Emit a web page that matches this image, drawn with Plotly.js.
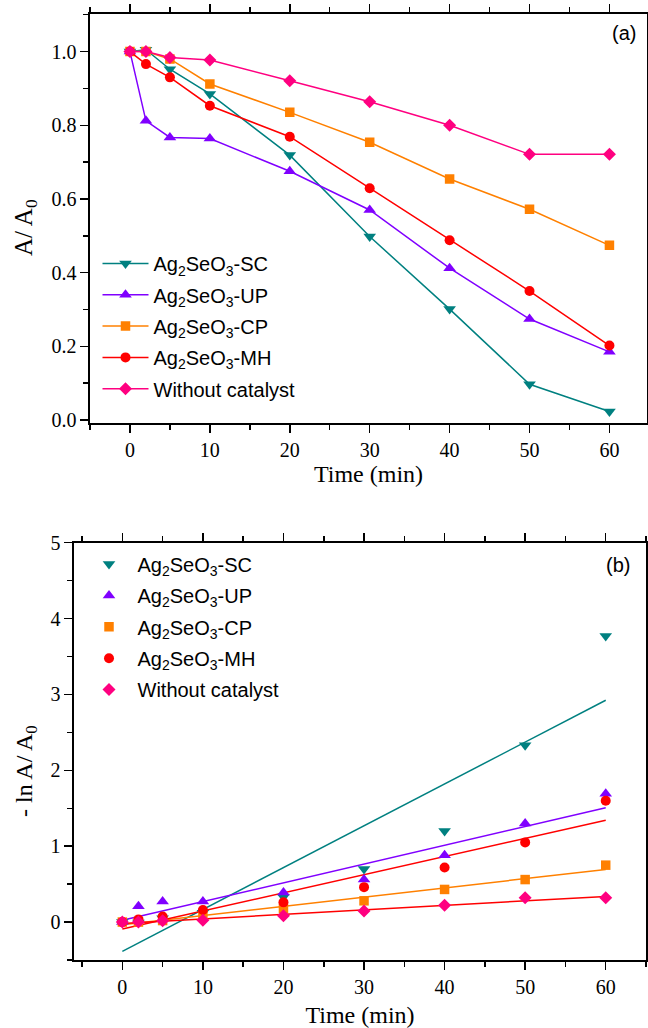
<!DOCTYPE html>
<html>
<head>
<meta charset="utf-8">
<script src="https://cdn.plot.ly/plotly-3.0.1.min.js"></script>
<style>html,body{margin:0;padding:0;background:#fff;}#chart{width:648px;height:1028px;}</style>
</head>
<body>
<div id="chart"></div>
<script>
// ---- data ----
var time = [0, 2, 5, 10, 20, 30, 40, 50, 60];
var seriesNames = ['Ag<sub>2</sub>SeO<sub>3</sub>-SC', 'Ag<sub>2</sub>SeO<sub>3</sub>-UP', 'Ag<sub>2</sub>SeO<sub>3</sub>-CP', 'Ag<sub>2</sub>SeO<sub>3</sub>-MH', 'Without catalyst'];
// panel (a): A/A0
var ratioSC = [1.0, 1.005, 0.952, 0.885, 0.719, 0.498, 0.301, 0.097, 0.023];
var ratioUP = [1.0, 0.812, 0.767, 0.764, 0.675, 0.570, 0.412, 0.274, 0.185];
var ratioCP = [1.0, 1.0, 0.980, 0.912, 0.835, 0.754, 0.654, 0.572, 0.474];
var ratioMH = [1.0, 0.966, 0.930, 0.853, 0.769, 0.629, 0.488, 0.350, 0.202];
var ratioWO = [1.0, 1.0, 0.984, 0.977, 0.921, 0.864, 0.800, 0.721, 0.721];
// panel (b): -ln(A/A0)
var lnSC = [0, -0.005, 0.05, 0.122, 0.33, 0.70, 1.20, 2.33, 3.77];
var lnUP = [0, 0.21, 0.27, 0.27, 0.39, 0.56, 0.88, 1.30, 1.69];
var lnCP = [0, 0.0, 0.02, 0.092, 0.18, 0.28, 0.43, 0.56, 0.75];
var lnMH = [0, 0.035, 0.073, 0.16, 0.26, 0.46, 0.72, 1.05, 1.60];
var lnWO = [0, 0, 0.016, 0.023, 0.082, 0.146, 0.22, 0.32, 0.32];

var colors = ['#008080', '#8000ff', '#ff8000', '#ff0000', '#ff0080'];
var fitColors = ['#008080', '#8000ff', '#ff8000', '#ff0000', '#ff0000'];
var symbols = ['triangle-down', 'triangle-up', 'square', 'circle', 'diamond'];
var sizes = [11, 11, 9.5, 10, 10];

var ratios = [ratioSC, ratioUP, ratioCP, ratioMH, ratioWO];
var lns = [lnSC, lnUP, lnCP, lnMH, lnWO];

function linfit(x, y) {
  var n = x.length, sx = 0, sy = 0, sxx = 0, sxy = 0;
  for (var i = 0; i < n; i++) { sx += x[i]; sy += y[i]; sxx += x[i] * x[i]; sxy += x[i] * y[i]; }
  var b = (n * sxy - sx * sy) / (n * sxx - sx * sx);
  var a = (sy - b * sx) / n;
  return [a, b];
}

var serif = 'Liberation Serif, Times New Roman, serif';
var sans = 'Liberation Sans, Arial, sans-serif';

var traces = [];
for (var i = 0; i < 5; i++) {
  traces.push({
    x: time, y: ratios[i], xaxis: 'x', yaxis: 'y', type: 'scatter', mode: 'lines+markers',
    name: seriesNames[i], legend: 'legend', legendgroup: 'a' + i,
    line: {color: colors[i], width: 1.5},
    marker: {symbol: symbols[i], size: sizes[i], color: colors[i]}
  });
}
var tmin = Math.min.apply(null, time), tmax = Math.max.apply(null, time);
for (var j = 0; j < 5; j++) {
  var f = linfit(time, lns[j]);
  traces.push({
    x: [tmin, tmax], y: [f[0] + f[1] * tmin, f[0] + f[1] * tmax], xaxis: 'x2', yaxis: 'y2',
    type: 'scatter', mode: 'lines', showlegend: false, hoverinfo: 'skip',
    line: {color: fitColors[j], width: 1.5}
  });
}
for (var k = 0; k < 5; k++) {
  traces.push({
    x: time, y: lns[k], xaxis: 'x2', yaxis: 'y2', type: 'scatter', mode: 'markers',
    name: seriesNames[k], legend: 'legend2', legendgroup: 'b' + k,
    marker: {symbol: symbols[k], size: sizes[k], color: colors[k]}
  });
}

var W = 648, H = 1028;
function axisBase() {
  return {
    showline: true, linecolor: '#000', linewidth: 1.6, mirror: 'ticks',
    ticks: 'outside', ticklen: 8, tickwidth: 1.5, tickcolor: '#000',
    showgrid: false, zeroline: false, automargin: false,
    tickfont: {family: serif, size: 20, color: '#000'}
  };
}
var xa = axisBase();
Object.assign(xa, {domain: [90 / W, 647 / W], range: [-5, 64.7], anchor: 'y', tick0: 0, dtick: 10,
  minor: {dtick: 5, ticks: 'outside', ticklen: 5, tickwidth: 1.5, tickcolor: '#000'},
  title: {text: 'Time (min)', font: {family: serif, size: 24, color: '#000'}, standoff: 5}});
var ya = axisBase();
Object.assign(ya, {domain: [1 - 423.3 / H, 1 - 14 / H], range: [-0.009, 1.102], anchor: 'x', tick0: 0, dtick: 0.2, tickformat: '.1f',
  minor: {dtick: 0.1, ticks: 'outside', ticklen: 5, tickwidth: 1.5, tickcolor: '#000'}});
var xb = axisBase();
Object.assign(xb, {domain: [74 / W, 646 / W], range: [-6, 65], anchor: 'y2', tick0: 0, dtick: 10,
  minor: {dtick: 5, ticks: 'outside', ticklen: 5, tickwidth: 1.5, tickcolor: '#000'},
  title: {text: 'Time (min)', font: {family: serif, size: 24, color: '#000'}, standoff: 9}});
var yb = axisBase();
Object.assign(yb, {domain: [1 - 960 / H, 1 - 542.7 / H], range: [-0.5, 5], anchor: 'x2', tick0: 0, dtick: 1,
  minor: {dtick: 0.5, ticks: 'outside', ticklen: 5, tickwidth: 1.5, tickcolor: '#000'}});

var layout = {
  width: W, height: H, margin: {l: 0, r: 0, t: 0, b: 0},
  paper_bgcolor: '#fff', plot_bgcolor: '#fff',
  xaxis: xa, yaxis: ya, xaxis2: xb, yaxis2: yb,
  legend: {x: 97.5 / W, y: 1 - 244 / H, xanchor: 'left', yanchor: 'top', bgcolor: 'rgba(0,0,0,0)',
    font: {family: sans, size: 20, color: '#000'}, traceorder: 'grouped', tracegroupgap: 2.3, itemwidth: 46},
  legend2: {x: 80.5 / W, y: 1 - 544.5 / H, xanchor: 'left', yanchor: 'top', bgcolor: 'rgba(0,0,0,0)',
    font: {family: sans, size: 20, color: '#000'}, traceorder: 'grouped', tracegroupgap: 2.4, itemwidth: 47},
  annotations: [
    {text: '(a)', x: 624 / W, y: 1 - 33 / H, xref: 'paper', yref: 'paper', showarrow: false,
      font: {family: sans, size: 20, color: '#000'}, xanchor: 'center', yanchor: 'middle'},
    {text: '(b)', x: 618 / W, y: 1 - 565 / H, xref: 'paper', yref: 'paper', showarrow: false,
      font: {family: sans, size: 20, color: '#000'}, xanchor: 'center', yanchor: 'middle'},
    {text: 'A/ A<sub>0</sub>', x: 25 / W, y: 1 - 228 / H, xref: 'paper', yref: 'paper', showarrow: false, textangle: -90,
      font: {family: serif, size: 25, color: '#000'}, xanchor: 'center', yanchor: 'middle'},
    {text: '- ln A/ A<sub>0</sub>', x: 26 / W, y: 1 - 771 / H, xref: 'paper', yref: 'paper', showarrow: false, textangle: -90,
      font: {family: serif, size: 24, color: '#000'}, xanchor: 'center', yanchor: 'middle'}
  ]
};

Plotly.newPlot('chart', traces, layout, {displayModeBar: false, staticPlot: true});
</script>
</body>
</html>
